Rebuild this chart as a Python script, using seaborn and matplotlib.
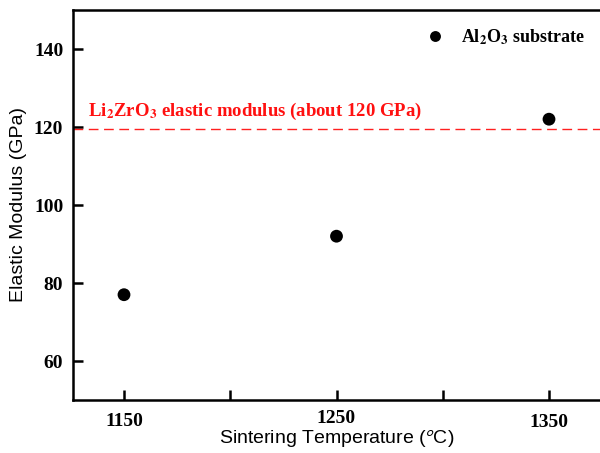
"""Elastic modulus vs sintering temperature."""

import matplotlib

matplotlib.use("Agg")
import matplotlib.pyplot as plt
import matplotlib.transforms as mtransforms
import pandas as pd
import seaborn as sns

TEMPERATURES: list[int] = [1150, 1250, 1350]
MODULUS_GPA: list[float] = [77, 92, 122]
REFERENCE_MODULUS = 119.5
X_TICKS: list[int] = [1150, 1200, 1250, 1300, 1350]
X_TICK_LABELS: list[str] = ["1150", "", "1250", "", "1350"]
Y_TICKS: list[int] = [60, 80, 100, 120, 140]
SERIES_LABEL = r"Al$\mathbf{_2}$O$\mathbf{_3}$ substrate"
REFERENCE_LABEL = r"Li$\mathbf{_2}$ZrO$\mathbf{_3}$ elastic modulus (about 120 GPa)"

sns.set_style("ticks", {"axes.edgecolor": "black", "xtick.color": "black", "ytick.color": "black", "text.color": "black", "axes.labelcolor": "black"})
plt.rcParams["font.family"] = ["Liberation Serif", "DejaVu Serif"]
plt.rcParams["mathtext.fontset"] = "stix"

df = pd.DataFrame({"Temperature": TEMPERATURES, "Modulus": MODULUS_GPA, "Series": SERIES_LABEL})

fig = plt.figure(figsize=(6.0, 4.53), dpi=100)
ax = fig.add_axes([73 / 600, 53 / 453, 527 / 600, 390 / 453])

sns.scatterplot(
    data=df,
    x="Temperature",
    y="Modulus",
    hue="Series",
    palette=["black"],
    s=85,
    edgecolor="black",
    linewidth=0,
    ax=ax,
)
ax.axhline(REFERENCE_MODULUS, color="#ff2020", linewidth=1.0, linestyle=(0, (7, 4)))
ax.text(1133, 121.3, REFERENCE_LABEL, color="#ff1010", fontsize=13.5, fontweight="bold", ha="left", va="bottom")

ax.set_xlim(1126, 1374)
ax.set_ylim(50, 150)
ax.set_xticks(X_TICKS)
ax.set_xticklabels(X_TICK_LABELS)
ax.set_yticks(Y_TICKS)
ax.tick_params(direction="in", length=7, width=1.8, labelsize=14, pad=7, colors="black")
for label in ax.get_xticklabels() + ax.get_yticklabels():
    label.set_fontweight("bold")

# staggered x tick labels like the original
for label, shift in zip(ax.get_xticklabels(), [-2, 0, 0, 0, -3]):
    label.set_transform(label.get_transform() + mtransforms.ScaledTranslation(0, shift / 72, fig.dpi_scale_trans))

ax.set_xlabel(r"Sintering Temperature ($^{\mathsf{o}}$C)", family="Liberation Sans", fontsize=14, labelpad=-2)
ax.set_ylabel("Elastic Modulus (GPa)", family="Liberation Sans", fontsize=14, labelpad=5)

for side in ["left", "top", "bottom"]:
    ax.spines[side].set_linewidth(1.8)
ax.spines["right"].set_visible(False)

ax.legend(
    loc="upper right",
    bbox_to_anchor=(1.003, 0.997),
    frameon=False,
    prop={"family": "Liberation Serif", "weight": "bold", "size": 13},
    markerscale=0.85,
    handletextpad=0.45,
)

fig.savefig("out.png", dpi=100)
